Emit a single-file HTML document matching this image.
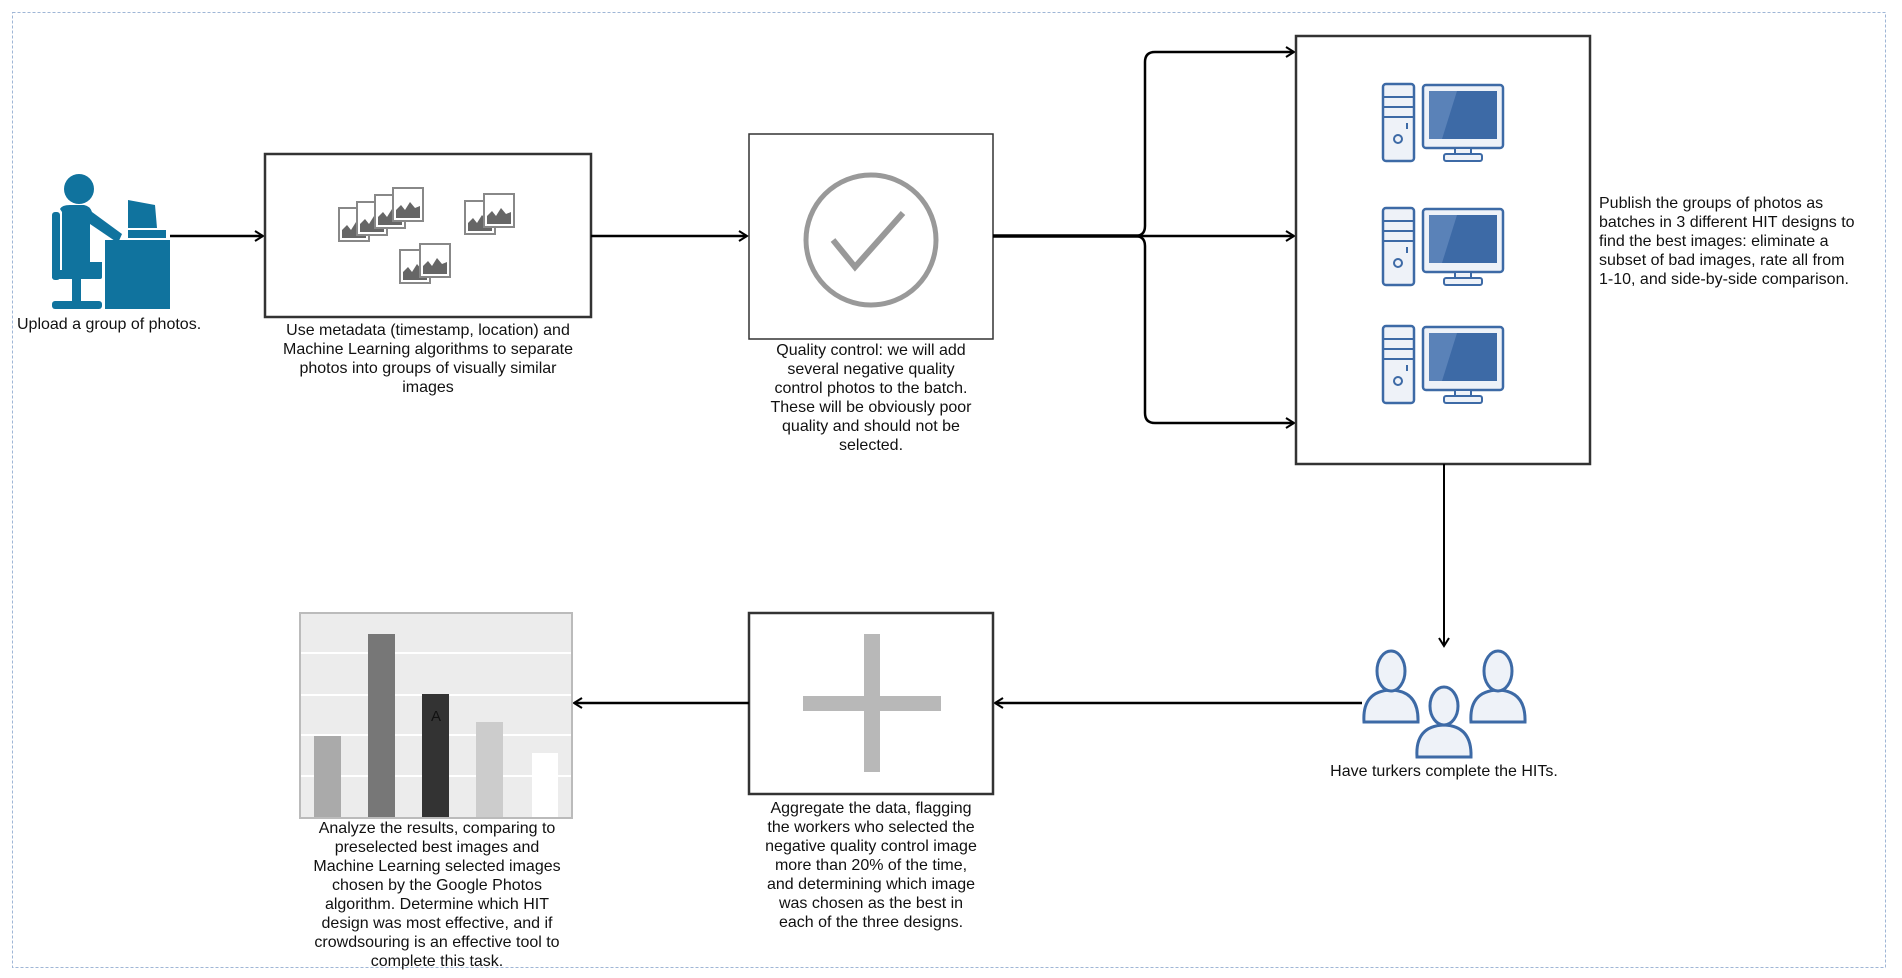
<!DOCTYPE html>
<html><head><meta charset="utf-8"><style>
html,body{margin:0;padding:0;background:#fff;}
svg{display:block;}
text{font-family:"Liberation Sans",Arial,sans-serif;font-size:16px;fill:#111;}
</style></head><body>
<svg width="1902" height="978" viewBox="0 0 1902 978" xmlns="http://www.w3.org/2000/svg">
<defs>
<marker id="ah" markerWidth="12" markerHeight="12" refX="10" refY="6" orient="auto" markerUnits="userSpaceOnUse">
<path d="M2,1 L10,6 L2,11" fill="none" stroke="#000" stroke-width="2"/>
</marker>
<g id="ph">
<rect x="0" y="0" width="30" height="33" fill="#fff" stroke="#888" stroke-width="2"/>
<path d="M3,30 L3,22 L8,17 L12,22 L17,14 L22,20 L27,18 L27,30 Z" fill="#666"/>
</g>
<g id="pc">
<rect x="1" y="1" width="31" height="77" rx="3" fill="#eef2f8" stroke="#3d6aa6" stroke-width="2.5"/>
<line x1="1" y1="14" x2="32" y2="14" stroke="#3d6aa6" stroke-width="2"/>
<line x1="1" y1="24" x2="32" y2="24" stroke="#3d6aa6" stroke-width="2"/>
<line x1="1" y1="34" x2="32" y2="34" stroke="#3d6aa6" stroke-width="2"/>
<circle cx="16" cy="56" r="4" fill="none" stroke="#3d6aa6" stroke-width="2"/>
<rect x="24" y="40" width="2" height="6" fill="#3d6aa6"/>
<rect x="41" y="2" width="80" height="63" rx="3" fill="#eef2f8" stroke="#3d6aa6" stroke-width="2.5"/>
<rect x="47" y="8" width="68" height="48" fill="#3d6aa6"/>
<path d="M47,8 L75,8 L60,56 L47,56 Z" fill="#5a82b8"/>
<rect x="73" y="65" width="16" height="6" fill="#eef2f8" stroke="#3d6aa6" stroke-width="2"/>
<rect x="62" y="71" width="38" height="7" rx="2" fill="#eef2f8" stroke="#3d6aa6" stroke-width="2"/>
</g>
</defs>

<rect x="12.5" y="12.5" width="1873" height="955" fill="none" stroke="#9fb6d6" stroke-width="1" stroke-dasharray="3,2"/>

<g fill="#10739e">
<circle cx="79" cy="189" r="15"/>
<path d="M60,209 Q62,205 70,205 L84,205 Q90,206 92,212 L122,234 L118,243 L90,224 L90,262 L102,262 L102,272 L62,272 L62,212 Z"/>
<rect x="52" y="212" width="8" height="68" rx="3"/>
<rect x="52" y="270" width="50" height="9" rx="2"/>
<rect x="72" y="278" width="9" height="25"/>
<rect x="52" y="301" width="50" height="8" rx="3"/>
<rect x="105" y="240" width="65" height="69"/>
<path d="M128,200 L155,205 L157,228 L128,228 Z"/>
<rect x="128" y="230" width="38" height="8"/>
</g>
<text x="17" y="329" style="text-anchor:start">Upload a group of photos.</text>

<line x1="170" y1="236" x2="263" y2="236" stroke="#000" stroke-width="2.5" marker-end="url(#ah)"/>

<rect x="265" y="154" width="326" height="163" fill="#fff" stroke="#333" stroke-width="2.5"/>
<use href="#ph" x="339" y="208"/>
<use href="#ph" x="357" y="202"/>
<use href="#ph" x="375" y="195"/>
<use href="#ph" x="393" y="188"/>
<use href="#ph" x="465" y="201"/>
<use href="#ph" x="484" y="194"/>
<use href="#ph" x="400" y="250"/>
<use href="#ph" x="420" y="244"/>
<g style="text-anchor:middle">
<text x="428" y="335">Use metadata (timestamp, location) and</text>
<text x="428" y="354">Machine Learning algorithms to separate</text>
<text x="428" y="373">photos into groups of visually similar</text>
<text x="428" y="392">images</text>
</g>

<line x1="591" y1="236" x2="747" y2="236" stroke="#000" stroke-width="2.5" marker-end="url(#ah)"/>

<rect x="749" y="134" width="244" height="205" fill="#fff" stroke="#333" stroke-width="1.5"/>
<circle cx="871" cy="240" r="65" fill="none" stroke="#999" stroke-width="5"/>
<polyline points="833,240 855,267 903,213" fill="none" stroke="#999" stroke-width="6"/>
<g style="text-anchor:middle">
<text x="871" y="355">Quality control: we will add</text>
<text x="871" y="374">several negative quality</text>
<text x="871" y="393">control photos to the batch.</text>
<text x="871" y="412">These will be obviously poor</text>
<text x="871" y="431">quality and should not be</text>
<text x="871" y="450">selected.</text>
</g>

<line x1="993" y1="236" x2="1140" y2="236" stroke="#000" stroke-width="3.5"/>
<path d="M1135,236 Q1145,236 1145,226 L1145,62 Q1145,52 1155,52 L1294,52" fill="none" stroke="#000" stroke-width="2.5" marker-end="url(#ah)"/>
<line x1="1140" y1="236" x2="1294" y2="236" stroke="#000" stroke-width="2.5" marker-end="url(#ah)"/>
<path d="M1135,236 Q1145,236 1145,246 L1145,413 Q1145,423 1155,423 L1294,423" fill="none" stroke="#000" stroke-width="2.5" marker-end="url(#ah)"/>

<rect x="1296" y="36" width="294" height="428" fill="#fff" stroke="#333" stroke-width="2.5"/>
<use href="#pc" x="1382" y="83"/>
<use href="#pc" x="1382" y="207"/>
<use href="#pc" x="1382" y="325"/>
<g style="text-anchor:start">
<text x="1599" y="208">Publish the groups of photos as</text>
<text x="1599" y="227">batches in 3 different HIT designs to</text>
<text x="1599" y="246">find the best images: eliminate a</text>
<text x="1599" y="265">subset of bad images, rate all from</text>
<text x="1599" y="284">1-10, and side-by-side comparison.</text>
</g>

<line x1="1444" y1="464" x2="1444" y2="646" stroke="#000" stroke-width="2" marker-end="url(#ah)"/>

<g fill="#eef2f8" stroke="#3d6aa6" stroke-width="3">
<path d="M1364,722 Q1362,691 1391,690 Q1419,691 1418,722 Z"/>
<ellipse cx="1391" cy="671" rx="14" ry="20"/>
<path d="M1471,722 Q1469,691 1498,690 Q1526,691 1525,722 Z"/>
<ellipse cx="1498" cy="671" rx="14" ry="20"/>
<path d="M1417,757 Q1415,726 1444,725 Q1472,726 1471,757 Z"/>
<ellipse cx="1444" cy="706" rx="14" ry="19"/>
</g>
<text x="1444" y="776" style="text-anchor:middle">Have turkers complete the HITs.</text>

<line x1="1362" y1="703" x2="995" y2="703" stroke="#000" stroke-width="2.5" marker-end="url(#ah)"/>

<rect x="749" y="613" width="244" height="181" fill="#fff" stroke="#333" stroke-width="2.5"/>
<rect x="864" y="634" width="16" height="138" fill="#b8b8b8"/>
<rect x="803" y="696" width="138" height="15" fill="#b8b8b8"/>
<g style="text-anchor:middle">
<text x="871" y="813">Aggregate the data, flagging</text>
<text x="871" y="832">the workers who selected the</text>
<text x="871" y="851">negative quality control image</text>
<text x="871" y="870">more than 20% of the time,</text>
<text x="871" y="889">and determining which image</text>
<text x="871" y="908">was chosen as the best in</text>
<text x="871" y="927">each of the three designs.</text>
</g>

<line x1="749" y1="703" x2="574" y2="703" stroke="#000" stroke-width="2.5" marker-end="url(#ah)"/>

<rect x="300" y="613" width="272" height="205" fill="#ececec" stroke="#bbb" stroke-width="2"/>
<g stroke="#fff" stroke-width="2">
<line x1="301" y1="653" x2="571" y2="653"/>
<line x1="301" y1="695" x2="571" y2="695"/>
<line x1="301" y1="735" x2="571" y2="735"/>
<line x1="301" y1="776" x2="571" y2="776"/>
</g>
<rect x="314" y="736" width="27" height="81" fill="#aaa"/>
<rect x="368" y="634" width="27" height="183" fill="#777"/>
<rect x="422" y="694" width="27" height="123" fill="#333"/>
<rect x="476" y="722" width="27" height="95" fill="#ccc"/>
<rect x="532" y="753" width="26" height="64" fill="#fff"/>
<text x="436" y="721" style="text-anchor:middle;font-size:15px">A</text>
<g style="text-anchor:middle">
<text x="437" y="833">Analyze the results, comparing to</text>
<text x="437" y="852">preselected best images and</text>
<text x="437" y="871">Machine Learning selected images</text>
<text x="437" y="890">chosen by the Google Photos</text>
<text x="437" y="909">algorithm. Determine which HIT</text>
<text x="437" y="928">design was most effective, and if</text>
<text x="437" y="947">crowdsouring is an effective tool to</text>
<text x="437" y="966">complete this task.</text>
</g>
</svg>
</body></html>
